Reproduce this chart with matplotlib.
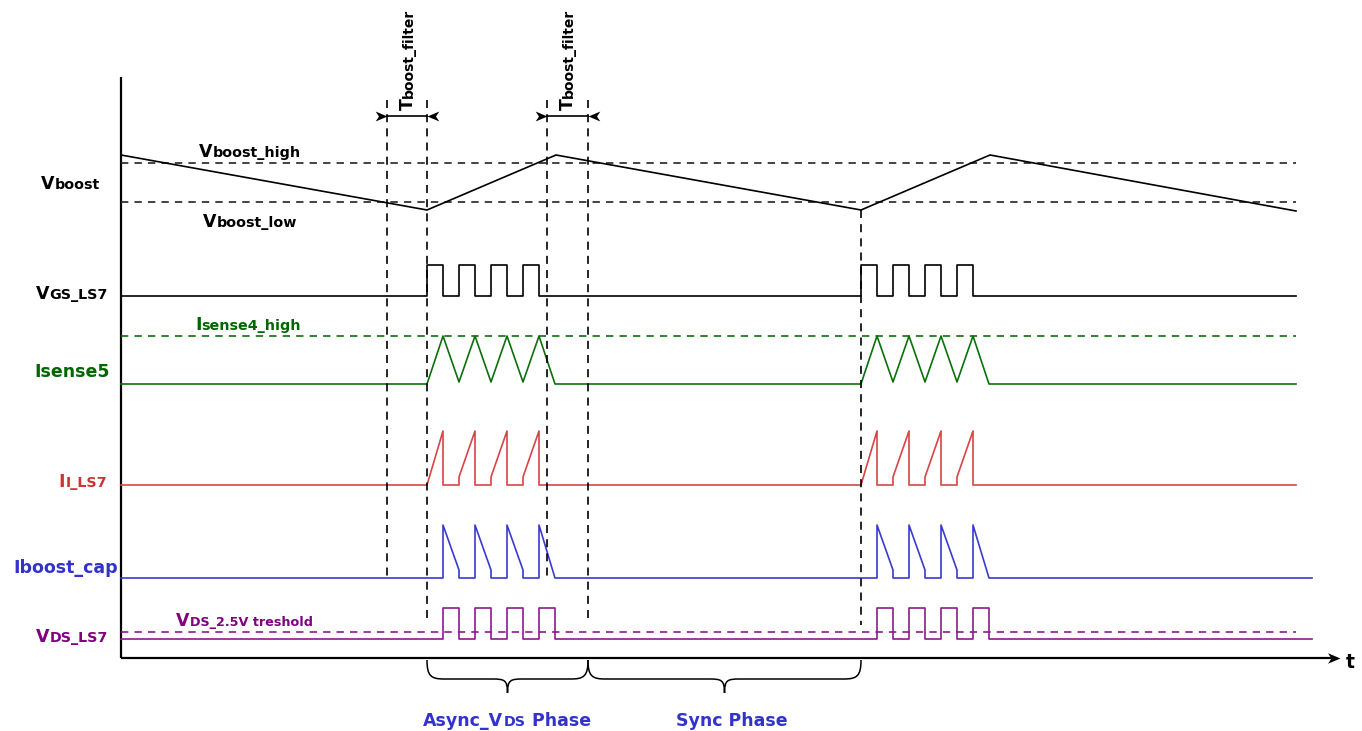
import matplotlib
matplotlib.use("Agg")
import matplotlib.pyplot as plt
from matplotlib.path import Path
from matplotlib.patches import PathPatch
from matplotlib.font_manager import FontProperties
from matplotlib.transforms import offset_copy

plt.rcParams['font.family'] = ['DejaVu Sans']
plt.rcParams['lines.scale_dashes'] = False

# ---------------- data (time / level units of the diagram) ----------------
vboost_t = [121, 427, 556, 861, 990, 1296]
vboost_v = [155, 210, 155, 210, 155, 211]
vboost_high = 163
vboost_low = 202

vgs_rise = [427, 459, 491, 523, 861, 893, 925, 957]
vgs_fall = [443, 475, 507, 539, 877, 909, 941, 973]
vgs_low, vgs_high = 296, 265

isense_t = [121, 427, 443, 459, 475, 491, 507, 523, 539, 555,
            861, 877, 893, 909, 925, 941, 957, 973, 989, 1296]
isense_v = [384, 384, 336, 382, 336, 382, 336, 382, 336, 384,
            384, 336, 382, 336, 382, 336, 382, 336, 384, 384]
isense_high = 336

il_t = [121, 427, 443, 443, 459, 459, 475, 475, 491, 491, 507, 507, 523, 523, 539, 539,
        861, 877, 877, 893, 893, 909, 909, 925, 925, 941, 941, 957, 957, 973, 973, 1296]
il_v = [485, 485, 431, 485, 485, 477, 431, 485, 485, 477, 431, 485, 485, 477, 431, 485,
        485, 431, 485, 485, 477, 431, 485, 485, 477, 431, 485, 485, 477, 431, 485, 485]

ib_t = [121, 443, 443, 459, 459, 475, 475, 491, 491, 507, 507, 523, 523, 539, 539, 555,
        877, 877, 893, 893, 909, 909, 925, 925, 941, 941, 957, 957, 973, 973, 989, 1312]
ib_v = [578, 578, 525, 570, 578, 578, 525, 570, 578, 578, 525, 570, 578, 578, 525, 578,
        578, 525, 570, 578, 578, 525, 570, 578, 578, 525, 570, 578, 578, 525, 578, 578]

vds_rise = [443, 475, 507, 539, 877, 909, 941, 973]
vds_fall = [459, 491, 523, 555, 893, 925, 957, 989]
vds_low, vds_high = 639, 608
vds_threshold = 632

guide_x = [387, 427, 547, 588, 861]
guide_top = [100, 100, 100, 100, 210]
guide_bottom = [578, 622, 578, 622, 625]

tfilter_windows = [(387, 427), (547, 588)]
phases = [("Async", 427, 588), ("Sync", 588, 861)]

# ---------------- figure ----------------
W, H = 1362, 731
fig = plt.figure(figsize=(W / 100, H / 100), dpi=100)
ax = fig.add_axes([0, 0, 1, 1])
ax.set_xlim(0, W)
ax.set_ylim(H, 0)
ax.axis('off')

BLACK = '#000000'
GREEN = '#0a700a'
GREEN_T = '#006600'
RED = '#d94444'
RED_T = '#cc3333'
BLUE = '#3a3ad0'
BLUE_T = '#3333cc'
PURPLE = '#8b1a8b'
PURPLE_T = '#800080'
LW = 1.2
DASH = (0, (5.3, 4.4))


def step_wave(rise, fall, low, high, start, end):
    t, v = [start], [low]
    for r, f in zip(rise, fall):
        t += [r, r, f, f]
        v += [low, high, high, low]
    t.append(end)
    v.append(low)
    return t, v


# axes
ax.plot([121, 121], [77, 658], color=BLACK, lw=1.6, solid_capstyle='butt')
ax.plot([121, 1332], [658, 658], color=BLACK, lw=1.6, solid_capstyle='butt')

stealth_r = Path([(0, 0), (-1, 0.42), (-0.72, 0), (-1, -0.42), (0, 0)],
                 [Path.MOVETO, Path.LINETO, Path.LINETO, Path.LINETO, Path.CLOSEPOLY])
stealth_l = Path([(0, 0), (1, 0.42), (0.72, 0), (1, -0.42), (0, 0)],
                 [Path.MOVETO, Path.LINETO, Path.LINETO, Path.LINETO, Path.CLOSEPOLY])
ax.plot([1340], [658], marker=stealth_r, ms=18, color=BLACK, mew=0)

# Vboost
ax.plot([121, 1296], [vboost_high] * 2, color='#222222', lw=LW, linestyle=DASH)
ax.plot([121, 1296], [vboost_low] * 2, color='#222222', lw=LW, linestyle=DASH)
ax.plot(vboost_t, vboost_v, color=BLACK, lw=LW)

# VGS
t, v = step_wave(vgs_rise, vgs_fall, vgs_low, vgs_high, 121, 1296)
ax.plot(t, v, color=BLACK, lw=LW)

# Isense
ax.plot([121, 1296], [isense_high] * 2, color=GREEN, lw=LW, linestyle=DASH)
ax.plot(isense_t, isense_v, color=GREEN, lw=LW)

# IL
ax.plot(il_t, il_v, color=RED, lw=LW)

# Iboost_cap
ax.plot(ib_t, ib_v, color=BLUE, lw=LW)

# VDS
ax.plot([121, 1296], [vds_threshold] * 2, color=PURPLE, lw=LW, linestyle=DASH)
t, v = step_wave(vds_rise, vds_fall, vds_low, vds_high, 121, 1312)
ax.plot(t, v, color=PURPLE, lw=LW)

# vertical guides
for gx, gt, gb in zip(guide_x, guide_top, guide_bottom):
    ax.plot([gx, gx], [gt, gb], color=BLACK, lw=LW, linestyle=(0, (5.8, 4.4)))

# Tboost_filter dimension arrows
for a, b in tfilter_windows:
    ax.plot([a, b], [116, 116], color=BLACK, lw=LW)
    ax.plot([a], [116], marker=stealth_r, ms=17, color=BLACK, mew=0)
    ax.plot([b], [116], marker=stealth_l, ms=17, color=BLACK, mew=0)

# braces
def brace(x0, x1, ytop=660, ymid=679, ytip=693, r=17, rc=15):
    xm = (x0 + x1) / 2
    verts = [(x0, ytop), (x0, ymid - 3), (x0 + 4, ymid), (x0 + r, ymid),
             (xm - rc, ymid),
             (xm - 3, ymid), (xm, ymid + 1), (xm, ytip),
             (xm, ymid + 1), (xm + 3, ymid), (xm + rc, ymid),
             (x1 - r, ymid),
             (x1 - 4, ymid), (x1, ymid - 3), (x1, ytop)]
    codes = [Path.MOVETO, Path.CURVE4, Path.CURVE4, Path.CURVE4,
             Path.LINETO,
             Path.CURVE4, Path.CURVE4, Path.CURVE4,
             Path.CURVE4, Path.CURVE4, Path.CURVE4,
             Path.LINETO,
             Path.CURVE4, Path.CURVE4, Path.CURVE4]
    ax.add_patch(PathPatch(Path(verts, codes), fill=False, lw=1.1, color=BLACK))


for name, a, b in phases:
    brace(a, b)

# ---------------- text ----------------
renderer = fig.canvas.get_renderer()
B = 12.5
S = 10.3


def mixed(x, y, parts, color, ha='left', rot=0):
    widths = []
    for s, sz in parts:
        fp = FontProperties(family='DejaVu Sans', weight='bold', size=sz)
        w, h, d = renderer.get_text_width_height_descent(s, fp, ismath=False)
        widths.append(w)
    total = sum(widths)
    off = {'left': 0, 'center': -total / 2, 'right': -total}[ha]
    for (s, sz), w in zip(parts, widths):
        dx, dy = (off, 0) if rot == 0 else (0, off)
        tr = offset_copy(ax.transData, fig=fig, x=dx, y=dy, units='dots')
        ax.text(x, y, s, transform=tr, fontsize=sz, fontweight='bold', color=color,
                ha='left', va='baseline', rotation=rot, rotation_mode='anchor')
        off += w


mixed(100, 189, [("V", B), ("boost", S)], BLACK, 'right')
mixed(199, 157, [("V", B), ("boost_high", S)], BLACK)
mixed(203, 227, [("V", B), ("boost_low", S)], BLACK)
mixed(108, 299, [("V", B), ("GS_LS7", S)], BLACK, 'right')
mixed(195, 330, [("I", B), ("sense4_high", S)], GREEN_T)
mixed(110, 377, [("Isense5", B)], GREEN_T, 'right')
mixed(107, 487, [("I", B), ("I_LS7", S)], RED_T, 'right')
mixed(118, 573, [("Iboost_cap", B)], BLUE_T, 'right')
mixed(176, 626, [("V", B), ("DS_2.5V treshold", 9.2)], PURPLE_T)
mixed(108, 642, [("V", B), ("DS_LS7", S)], PURPLE_T, 'right')
for a, b in tfilter_windows:
    mixed(a + 26, 110, [("T", B), ("boost_filter", 10.0)], BLACK, 'left', rot=90)
mixed(1346, 668, [("t", 13.5)], BLACK)
mixed(507, 726, [("Async_V", B), ("DS", S), (" Phase", B)], BLUE_T, 'center')
mixed(732, 726, [("Sync Phase", B)], BLUE_T, 'center')

fig.savefig("out.png", dpi=100)
